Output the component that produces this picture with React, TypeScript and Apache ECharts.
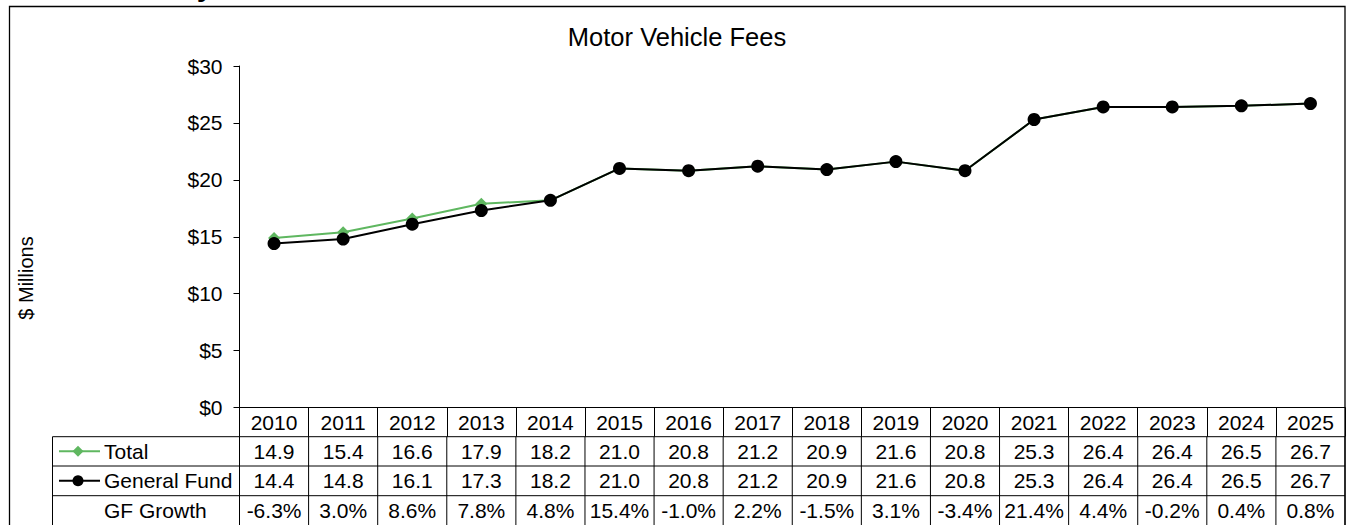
import React, { useEffect, useRef } from 'react';
import * as echarts from 'echarts';

const years = ['2010', '2011', '2012', '2013', '2014', '2015', '2016', '2017', '2018', '2019', '2020', '2021', '2022', '2023', '2024', '2025'];
const totalValues = [14.9, 15.4, 16.6, 17.9, 18.2, 21.0, 20.8, 21.2, 20.9, 21.6, 20.8, 25.3, 26.4, 26.4, 26.5, 26.7];
const generalFundValues = [14.4, 14.8, 16.1, 17.3, 18.2, 21.0, 20.8, 21.2, 20.9, 21.6, 20.8, 25.3, 26.4, 26.4, 26.5, 26.7];
const gfGrowth = ['-6.3%', '3.0%', '8.6%', '7.8%', '4.8%', '15.4%', '-1.0%', '2.2%', '-1.5%', '3.1%', '-3.4%', '21.4%', '4.4%', '-0.2%', '0.4%', '0.8%'];
const rowLabels = ['Total', 'General Fund', 'GF Growth'];
const chartTitle = 'Motor Vehicle Fees';
const yAxisTitle = '$ Millions';

const GREEN = '#5fb760';
const FONT = '"Liberation Sans", Arial, sans-serif';

export default function App() {
  const ref = useRef<HTMLDivElement>(null);

  useEffect(() => {
    const chart = echarts.init(ref.current!, null, { renderer: 'svg' });
    const gridTop = 66;
    const axisY = 407.5;
    chart.setOption({
      animation: false,
      textStyle: { fontFamily: FONT },
      grid: { left: 239.5, right: 4, top: gridTop, bottom: 525 - axisY, containLabel: false },
      xAxis: {
        type: 'category',
        data: years,
        boundaryGap: true,
        axisLine: { show: true, lineStyle: { color: '#000', width: 1 } },
        axisTick: { show: true, inside: false, length: 29.2, alignWithLabel: false, lineStyle: { color: '#000' } },
        axisLabel: { show: true, color: '#000', fontSize: 21, margin: 4, fontFamily: FONT },
        splitLine: { show: false },
      },
      yAxis: {
        type: 'value',
        min: 0,
        max: 30,
        interval: 5,
        axisLine: { show: true, lineStyle: { color: '#000', width: 1 } },
        axisTick: { show: true, inside: false, length: 6, lineStyle: { color: '#000' } },
        axisLabel: { color: '#000', fontSize: 21, margin: 17, fontFamily: FONT, formatter: (v: number) => '$' + v },
        splitLine: { show: false },
      },
      series: [
        {
          name: 'Total',
          type: 'line',
          data: totalValues,
          symbol: 'diamond',
          symbolSize: 12,
          itemStyle: { color: GREEN },
          lineStyle: { color: GREEN, width: 2 },
          z: 2,
        },
        {
          name: 'General Fund',
          type: 'line',
          data: generalFundValues,
          symbol: 'circle',
          symbolSize: 13,
          itemStyle: { color: '#000' },
          lineStyle: { color: '#000', width: 2 },
          z: 3,
        },
      ],
    });

    const centers = years.map((_, i) => chart.convertToPixel({ xAxisIndex: 0 }, i) as number);
    const colW = centers[1] - centers[0];
    const tableLeft = 52.5;
    const plotLeft = centers[0] - colW / 2;
    const plotRight = centers[centers.length - 1] + colW / 2;
    const rowTops = [axisY, 436.7, 466, 495.7, 525];
    const bottom = 530;

    const els: any[] = [];
    const line = (x1: number, y1: number, x2: number, y2: number) =>
      els.push({ type: 'line', silent: true, shape: { x1, y1, x2, y2 }, style: { stroke: '#000', lineWidth: 1 } });
    const text = (t: string, x: number, y: number, align: string, extra: any = {}) =>
      els.push({
        type: 'text',
        silent: true,
        x,
        y,
        style: {
          text: t,
          fill: '#000',
          fontSize: 21,
          fontFamily: FONT,
          align,
          verticalAlign: 'middle',
          textAlign: align,
          textVerticalAlign: 'middle',
          ...extra,
        },
      });

    // outer frame
    els.push({ type: 'rect', silent: true, shape: { x: 9.5, y: 6.5, width: 1335.5, height: 600 }, style: { fill: 'none', stroke: '#000', lineWidth: 1.3 } });
    // clipped heading fragment above the frame
    els.push({
      type: 'text',
      silent: true,
      x: 205,
      y: -15,
      style: { text: 'y', fill: '#000', fontSize: 30, fontWeight: 'bold', fontFamily: FONT, align: 'center', verticalAlign: 'middle', textAlign: 'center', textVerticalAlign: 'middle' },
    });

    // title and y-axis name
    text(chartTitle, 677, 37, 'center', { fontSize: 25.5 });
    els.push({
      type: 'text',
      silent: true,
      x: 26,
      y: 278,
      rotation: Math.PI / 2,
      style: { text: yAxisTitle, fill: '#000', fontSize: 20, fontFamily: FONT, align: 'center', verticalAlign: 'middle', textAlign: 'center', textVerticalAlign: 'middle' },
    });

    // table grid
    for (let r = 1; r < rowTops.length - 1; r++) line(tableLeft, rowTops[r], plotRight, rowTops[r]);
    line(tableLeft, rowTops[1], tableLeft, bottom);
    line(plotLeft, axisY, plotLeft, bottom);
    for (let i = 1; i <= years.length; i++) {
      const x = plotLeft + colW * i;
      line(x, rowTops[1], x, bottom);
    }

    // row labels with legend keys
    const rowMid = (r: number) => (rowTops[r] + rowTops[r + 1]) / 2;
    const keyX1 = 59, keyX2 = 100, keyMid = 78;
    const yT = rowMid(1);
    els.push({ type: 'line', silent: true, shape: { x1: keyX1, y1: yT, x2: keyX2, y2: yT }, style: { stroke: GREEN, lineWidth: 2 } });
    els.push({
      type: 'polygon',
      silent: true,
      shape: { points: [[keyMid, yT - 5.5], [keyMid + 5.5, yT], [keyMid, yT + 5.5], [keyMid - 5.5, yT]] },
      style: { fill: GREEN },
    });
    const yG = rowMid(2);
    els.push({ type: 'line', silent: true, shape: { x1: keyX1, y1: yG, x2: keyX2, y2: yG }, style: { stroke: '#000', lineWidth: 2 } });
    els.push({ type: 'circle', silent: true, shape: { cx: keyMid, cy: yG, r: 5.5 }, style: { fill: '#000' } });
    text(rowLabels[0], 104, rowMid(1), 'left');
    text(rowLabels[1], 104, rowMid(2), 'left');
    text(rowLabels[2], 104, rowMid(3), 'left');

    // values
    years.forEach((_, i) => {
      text(totalValues[i].toFixed(1), centers[i], rowMid(1), 'center');
      text(generalFundValues[i].toFixed(1), centers[i], rowMid(2), 'center');
      text(gfGrowth[i], centers[i], rowMid(3), 'center');
    });

    chart.setOption({ graphic: { elements: els } });

    return () => chart.dispose();
  }, []);

  return <div ref={ref} style={{ position: 'absolute', left: 0, top: 0, width: 1349, height: 525 }} />;
}
